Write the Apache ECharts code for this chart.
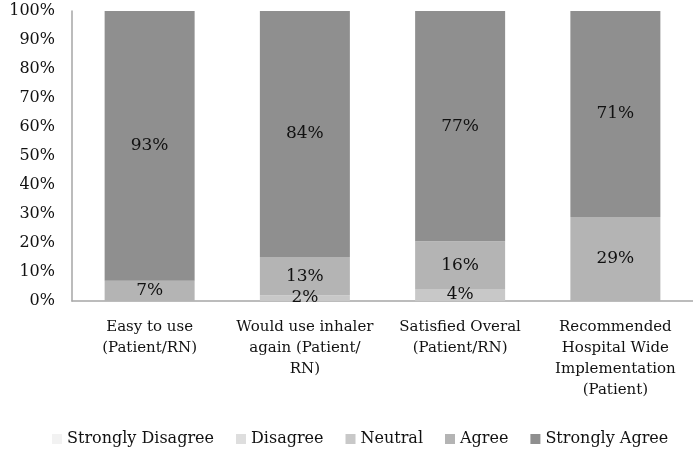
<!DOCTYPE html>
<html>
<head>
<meta charset="utf-8">
<script src="https://cdn.jsdelivr.net/npm/echarts@6/dist/echarts.min.js"></script>
<style>
  html, body { margin: 0; padding: 0; background: #fff; }
  #chart { width: 693px; height: 455px; }
</style>
</head>
<body>
<div id="chart"></div>
<script>
// categories on the x axis
var categories = [
    'Easy to use\n(Patient/RN)',
    'Would use inhaler\nagain (Patient/\nRN)',
    'Satisfied Overal\n(Patient/RN)',
    'Recommended\nHospital Wide\nImplementation\n(Patient)'
];

// percentage shown for each answer (0 = not answered)
var stronglyDisagree = [0, 0, 0, 0];
var disagree         = [0, 0, 0, 0];
var neutral          = [0, 2, 4, 0];
var agree            = [7, 13, 16, 29];
var stronglyAgree    = [93, 84, 77, 71];

var yTicks = [0, 10, 20, 30, 40, 50, 60, 70, 80, 90, 100];

var seriesNames  = ['Strongly Disagree', 'Disagree', 'Neutral', 'Agree', 'Strongly Agree'];
var seriesColors = ['#f2f2f2', '#dedede', '#c8c8c8', '#b4b4b4', '#8f8f8f'];
var seriesData   = [stronglyDisagree, disagree, neutral, agree, stronglyAgree];

var fontFamily = '"DejaVu Serif", "Liberation Serif", serif';

// 100% stacked: every column is scaled to its own total
var totals = categories.map(function (c, i) {
    var s = 0;
    seriesData.forEach(function (arr) { s += arr[i]; });
    return s;
});

var series = seriesData.map(function (arr, k) {
    return {
        name: seriesNames[k],
        type: 'bar',
        stack: 'total',
        barWidth: 90,
        itemStyle: { color: seriesColors[k] },
        label: {
            show: true,
            position: 'inside',
            color: '#111',
            fontSize: 17,
            fontFamily: fontFamily,
            formatter: function (p) {
                var raw = arr[p.dataIndex];
                return raw > 0 ? raw + '%' : '';
            }
        },
        data: arr.map(function (v, i) {
            return v === 0 ? null : v / totals[i] * 100;
        })
    };
});

var option = {
    backgroundColor: '#fff',
    animation: false,
    grid: {
        left: 72,
        top: 11,
        width: 624,
        bottom: 154
    },
    legend: {
        top: 429,
        left: 50,
        width: 680,
        padding: 2,
        itemWidth: 10,
        itemHeight: 10,
        itemGap: 22,
        icon: 'rect',
        textStyle: { color: '#111', fontSize: 16, fontFamily: fontFamily },
        data: seriesNames
    },
    xAxis: {
        type: 'category',
        data: categories,
        axisTick: { show: false },
        axisLine: { lineStyle: { color: '#a6a6a6', width: 1.5 } },
        axisLabel: {
            interval: 0,
            margin: 16,
            color: '#111',
            fontSize: 15,
            lineHeight: 21,
            fontFamily: fontFamily
        }
    },
    yAxis: {
        type: 'value',
        min: 0,
        max: 100,
        interval: 10,
        splitLine: { show: false },
        axisTick: { show: false },
        axisLine: { show: true, lineStyle: { color: '#a6a6a6', width: 1.5 } },
        axisLabel: {
            margin: 17,
            color: '#111',
            fontSize: 16,
            fontFamily: fontFamily,
            formatter: function (v) {
                return yTicks.indexOf(v) >= 0 ? v + '%' : '';
            }
        }
    },
    series: series
};

echarts.init(document.getElementById('chart')).setOption(option);
</script>
</body>
</html>
